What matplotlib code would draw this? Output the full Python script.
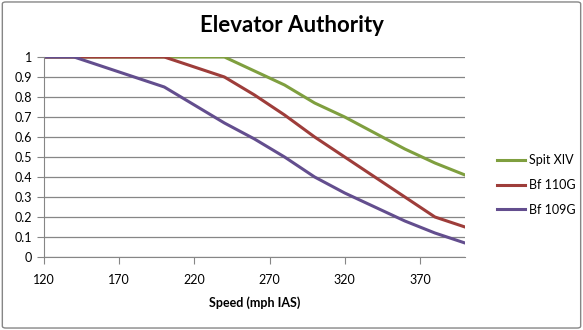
import matplotlib.pyplot as plt
from matplotlib.patches import FancyBboxPatch

# data
speed = [120, 140, 160, 180, 200, 220, 240, 260, 280, 300, 320, 340, 360, 380, 400]
spit_xiv = [1, 1, 1, 1, 1, 1, 1, 0.93, 0.86, 0.77, 0.70, 0.62, 0.54, 0.47, 0.41]
bf_110g = [1, 1, 1, 1, 1, 0.95, 0.90, 0.81, 0.71, 0.60, 0.50, 0.40, 0.30, 0.20, 0.15]
bf_109g = [1, 1, 0.95, 0.90, 0.85, 0.76, 0.67, 0.59, 0.50, 0.40, 0.32, 0.25, 0.18, 0.12, 0.07]
x_ticks = [120, 170, 220, 270, 320, 370]
y_ticks = [0, 0.1, 0.2, 0.3, 0.4, 0.5, 0.6, 0.7, 0.8, 0.9, 1]

plt.rcParams['font.family'] = ['Lato', 'DejaVu Sans']

fig = plt.figure(figsize=(5.83, 3.30), dpi=100)
ax = fig.add_axes([44 / 583, 1 - 257 / 330, (465 - 44) / 583, 200 / 330])

# outer chart border
fig.patches.append(FancyBboxPatch((0.004, 0.006), 0.992, 0.988,
                                  boxstyle="round,pad=0,rounding_size=0.006",
                                  transform=fig.transFigure, fill=False,
                                  edgecolor='#868686', linewidth=1))

ax.plot(speed, spit_xiv, color='#7F9F3F', lw=2.2, label='Spit XIV')
ax.plot(speed, bf_110g, color='#9E3D3A', lw=2.2, label='Bf 110G')
ax.plot(speed, bf_109g, color='#634E8E', lw=2.2, label='Bf 109G')

ax.set_xlim(120, 400)
ax.set_ylim(0, 1)
ax.set_xticks(x_ticks)
ax.set_yticks(y_ticks)
ax.set_yticklabels([f"{v:g}" for v in y_ticks])
ax.yaxis.grid(True, color='#868686', lw=0.9)
ax.set_axisbelow(True)
for s in ['top', 'right']:
    ax.spines[s].set_visible(False)
ax.spines['left'].set_color('#868686')
ax.spines['bottom'].set_color('#868686')
ax.tick_params(axis='x', length=5, color='#868686', pad=7, labelsize=9)
ax.tick_params(axis='y', length=5, color='#868686', labelsize=9)

ax.set_xlabel('Speed (mph IAS)', fontsize=9, fontweight='bold', labelpad=8)
fig.text(0.5, 1 - 26 / 330, 'Elevator Authority', ha='center', va='center',
         fontsize=16, fontweight='bold')

ax.legend(loc='center left', bbox_to_anchor=(1.05, 0.36), frameon=False,
          fontsize=9, handlelength=2.2, handletextpad=0.3, labelspacing=1.0)

fig.savefig('out.png', dpi=100)
